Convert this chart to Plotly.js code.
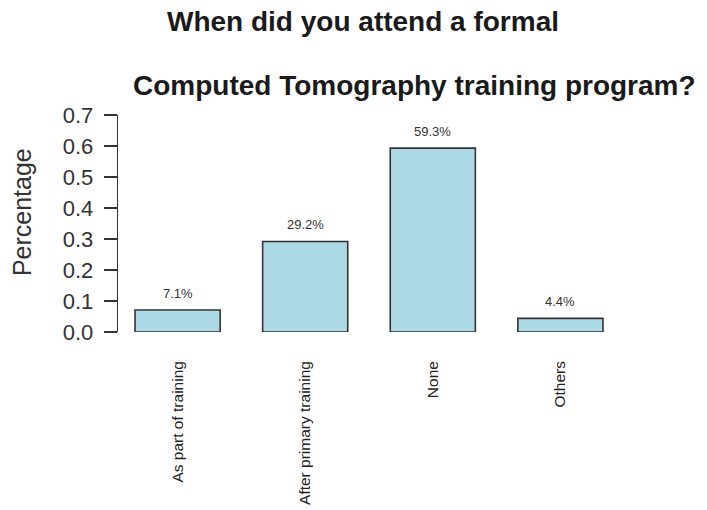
<!DOCTYPE html>
<html>
<head>
<meta charset="utf-8">
<script src="https://cdn.plot.ly/plotly-3.0.1.min.js"></script>
<style>html,body{margin:0;padding:0;background:#fff}#chart{width:707px;height:510px}</style>
</head>
<body>
<div id="chart"></div>
<script>
const categories = ["As part of training", "After primary training", "None", "Others"];
const values = [0.071, 0.292, 0.593, 0.044];
const valueLabels = ["7.1%", "29.2%", "59.3%", "4.4%"];
const yTicks = [0, 0.1, 0.2, 0.3, 0.4, 0.5, 0.6, 0.7];
const yTickText = ["0.0", "0.1", "0.2", "0.3", "0.4", "0.5", "0.6", "0.7"];

const positions = categories.map((c, i) => i);
const FONT = "Liberation Sans, Arial, sans-serif";

const trace = {
  type: "bar",
  x: positions,
  y: values,
  width: 0.667,
  marker: { color: "#ADD8E6", line: { color: "#333333", width: 1.6 } },
  hoverinfo: "skip"
};

const annotations = values.map((v, i) => ({
  x: positions[i], y: v, xref: "x", yref: "y",
  text: valueLabels[i], showarrow: false,
  yanchor: "bottom", yshift: 7,
  font: { family: FONT, size: 13, color: "#333333" }
}));

annotations.push({
  xref: "paper", yref: "paper", x: 0.488, y: 1.4286,
  xanchor: "center", yanchor: "middle", showarrow: false,
  text: "<b>When did you attend a formal</b>",
  font: { family: FONT, size: 28, color: "#1a1a1a" }
});
annotations.push({
  xref: "paper", yref: "paper", x: 0.59, y: 1.134,
  xanchor: "center", yanchor: "middle", showarrow: false,
  text: "<b>Computed Tomography training program?</b>",
  font: { family: FONT, size: 28, color: "#1a1a1a" }
});
annotations.push({
  xref: "paper", yref: "paper", x: -0.191, y: 0.553,
  xanchor: "center", yanchor: "middle", showarrow: false, textangle: -90,
  text: "Percentage",
  font: { family: FONT, size: 25, color: "#333333" }
});

const layout = {
  width: 707, height: 510,
  margin: { l: 118, r: 87, t: 115, b: 178, pad: 0 },
  paper_bgcolor: "#ffffff", plot_bgcolor: "#ffffff",
  showlegend: false,
  xaxis: {
    range: [-0.467, 3.467],
    tickvals: positions, ticktext: categories,
    tickangle: -90, ticks: "", showline: false, showgrid: false, zeroline: false,
    ticklabelstandoff: 25,
    tickfont: { family: FONT, size: 15.5, color: "#222222" }
  },
  yaxis: {
    range: [0, 0.7],
    tickvals: yTicks, ticktext: yTickText,
    ticks: "outside", ticklen: 13, tickwidth: 1.3, tickcolor: "#333333",
    showline: true, linecolor: "#333333", linewidth: 1.3,
    showgrid: false, zeroline: false,
    ticklabelstandoff: 6,
    tickfont: { family: FONT, size: 22, color: "#333333" }
  },
  annotations: annotations
};

Plotly.newPlot("chart", [trace], layout, { staticPlot: true, displayModeBar: false });
</script>
</body>
</html>
